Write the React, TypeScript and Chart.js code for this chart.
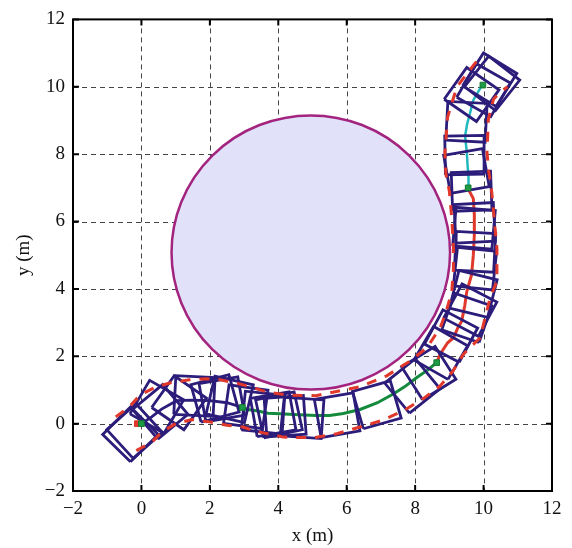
import React, { useEffect, useRef } from 'react';
import { Chart, registerables } from 'chart.js';

Chart.register(...registerables);

// ---- data ----
const xTicks = [-2, 0, 2, 4, 6, 8, 10, 12];
const yTicks = [-2, 0, 2, 4, 6, 8, 10, 12];

const obstacleCenter = [4.95, 5.08];
const obstacleRadius = 4.07;

// path segments [x, y]
const startPath = [
  [0, 0], [0.3, 0.2], [0.59, 0.43], [1.03, 0.68], [1.5, 0.7], [2.0, 0.68], [2.5, 0.62], [2.95, 0.48],
];
const greenPath = [
  [2.95, 0.48], [3.1, 0.42], [3.37, 0.38], [3.7, 0.31], [4.05, 0.29], [4.6, 0.26], [5.1, 0.24], [5.5, 0.24],
  [5.9, 0.3], [6.39, 0.42], [6.9, 0.62], [7.36, 0.88], [7.7, 1.1], [8.05, 1.37], [8.35, 1.58], [8.63, 1.81],
];
const redPath = [
  [8.63, 1.81], [8.73, 2.06], [8.95, 2.4], [9.12, 2.55], [9.25, 2.85], [9.36, 3.04], [9.45, 3.5],
  [9.51, 3.92], [9.65, 4.42], [9.7, 5.0], [9.73, 5.6], [9.73, 6.2], [9.7, 6.68], [9.6, 6.87], [9.55, 7.0],
];
const cyanPath = [
  [9.55, 7.0], [9.56, 7.3], [9.53, 7.7], [9.51, 8.05], [9.46, 8.54], [9.52, 8.9], [9.6, 9.2], [9.7, 9.6],
  [9.9, 9.95], [9.98, 10.05],
];
const waypoints = [
  [0, 0], [2.95, 0.48], [8.63, 1.81], [9.55, 7.0], [9.98, 10.05],
];
const startMarker = [[-0.12, 0.0]];

// corridor boundaries
const innerBoundary = [
  [-0.75, 0.2], [-0.35, 0.5], [-0.04, 0.85], [0.4, 1.08], [0.88, 1.22], [1.4, 1.3], [1.9, 1.33], [2.3, 1.3],
  [2.8, 1.2], [3.26, 1.07], [3.66, 0.94], [4.34, 0.84], [5.1, 0.83], [5.45, 0.9], [6.4, 1.1], [7.17, 1.42],
  [7.85, 1.86], [8.34, 2.25], [8.73, 2.84], [8.9, 3.3], [9.07, 3.92], [9.12, 4.6], [9.12, 5.2], [9.07, 6.1],
  [9.0, 6.9], [8.9, 7.4], [8.87, 8.05], [8.95, 9.1], [9.22, 10.0], [9.6, 10.5], [9.95, 10.95],
];
const outerBoundary = [
  [-0.15, -0.8], [0.3, -0.55], [0.6, -0.25], [1.0, 0.0], [1.47, 0.12], [1.95, 0.06], [2.5, -0.05], [2.98, -0.1],
  [3.27, -0.21], [4.15, -0.4], [5.02, -0.42], [5.71, -0.3], [6.39, -0.1], [7.05, 0.1], [7.65, 0.38], [8.25, 0.75],
  [8.73, 1.12], [9.1, 1.55], [9.41, 2.06], [9.9, 2.55], [10.19, 3.73], [10.39, 4.23], [10.39, 5.2], [10.24, 6.87],
  [10.15, 7.5], [10.1, 8.05], [10.14, 9.03], [10.29, 9.63], [10.48, 9.83], [10.7, 10.0],
];

// robot footprints: [centerX, centerY, angleDeg]
const footprints = [
  [-0.32, -0.32, 45], [-0.2, -0.22, 42], [0.55, 0.35, 40], [0.45, 0.5, -30], [1.1, 0.62, -35],
  [1.55, 0.82, -3], [2.15, 0.75, 15], [2.35, 0.72, 10], [2.58, 0.72, -13], [3.05, 0.5, -8],
  [3.55, 0.33, -6], [3.85, 0.28, 10], [4.02, 0.26, 12], [4.2, 0.22, 4], [4.72, 0.17, -4],
  [5.72, 0.25, 10], [6.88, 0.56, 16], [7.92, 1.12, 39], [8.4, 1.5, 32], [8.75, 2.1, 60],
  [9.05, 2.6, 62], [9.51, 3.14, 71], [9.61, 3.37, -28], [9.7, 3.85, -14], [9.75, 4.6, -6],
  [9.75, 5.1, -3], [9.72, 5.8, -5], [9.74, 5.96, 3], [9.65, 6.9, 2], [9.5, 7.5, 10], [9.45, 7.97, 1],
  [9.5, 8.96, -3], [9.65, 9.77, -35], [10.0, 9.9, -30], [10.18, 10.21, -32], [10.25, 10.1, -38],
];
const footprintSide = 1.15;

// ---- helpers ----
const pts = (arr: number[][]) => arr.map(([x, y]) => ({ x, y }));

function footprintOutline(cx: number, cy: number, deg: number) {
  const a = (deg * Math.PI) / 180;
  const h = footprintSide / 2;
  const c = Math.cos(a), s = Math.sin(a);
  const local = [[-h, -h], [h, -h], [h, h], [-h, h], [-h, -h]];
  return local.map(([u, v]) => ({ x: cx + u * c - v * s, y: cy + u * s + v * c }));
}

const NAVY = '#2c1d7a';
const RED = '#e0382b';
const GREEN = '#138a3c';
const CYAN = '#22b8bd';
const FONT = "'Liberation Serif', 'Times New Roman', serif";

const decorPlugin = {
  id: 'decor',
  beforeDatasetsDraw(chart: any) {
    const { ctx, chartArea, scales } = chart;
    const { left, right, top, bottom } = chartArea;
    const xs = scales.x, ys = scales.y;
    ctx.save();
    ctx.setLineDash([5, 4]);
    ctx.strokeStyle = '#444';
    ctx.lineWidth = 1;
    for (const t of xTicks) {
      const p = Math.round(xs.getPixelForValue(t)) + 0.5;
      if (p <= left + 1 || p >= right - 1) continue;
      ctx.beginPath(); ctx.moveTo(p, top); ctx.lineTo(p, bottom); ctx.stroke();
    }
    for (const t of yTicks) {
      const p = Math.round(ys.getPixelForValue(t)) + 0.5;
      if (p <= top + 1 || p >= bottom - 1) continue;
      ctx.beginPath(); ctx.moveTo(left, p); ctx.lineTo(right, p); ctx.stroke();
    }
    ctx.setLineDash([]);
    const cx = xs.getPixelForValue(obstacleCenter[0]);
    const cy = ys.getPixelForValue(obstacleCenter[1]);
    const rx = Math.abs(xs.getPixelForValue(obstacleCenter[0] + obstacleRadius) - cx);
    const ry = Math.abs(ys.getPixelForValue(obstacleCenter[1] + obstacleRadius) - cy);
    ctx.beginPath();
    ctx.ellipse(cx, cy, rx, ry, 0, 0, Math.PI * 2);
    ctx.fillStyle = '#e1e1fa';
    ctx.fill();
    ctx.strokeStyle = '#a3247f';
    ctx.lineWidth = 2.5;
    ctx.stroke();
    ctx.restore();
  },
  afterDatasetsDraw(chart: any) {
    const { ctx, chartArea, scales } = chart;
    const { left, right, top, bottom } = chartArea;
    const xs = scales.x, ys = scales.y;
    ctx.save();
    ctx.strokeStyle = '#000';
    ctx.lineWidth = 2;
    const tl = 6;
    for (const t of xTicks) {
      const p = xs.getPixelForValue(t);
      ctx.beginPath();
      ctx.moveTo(p, bottom); ctx.lineTo(p, bottom - tl);
      ctx.moveTo(p, top); ctx.lineTo(p, top + tl);
      ctx.stroke();
    }
    for (const t of yTicks) {
      const p = ys.getPixelForValue(t);
      ctx.beginPath();
      ctx.moveTo(left, p); ctx.lineTo(left + tl, p);
      ctx.moveTo(right, p); ctx.lineTo(right - tl, p);
      ctx.stroke();
    }
    ctx.strokeRect(left, top, right - left, bottom - top);
    ctx.restore();
  },
};

const fmt = (v: number) => (v < 0 ? '\u2212' + Math.abs(v) : String(v));

export default function App() {
  const ref = useRef<HTMLCanvasElement | null>(null);
  useEffect(() => {
    if (!ref.current) return;
    const line = (data: number[][], color: string, width: number, order: number, dash: number[] = []) => ({
      data: pts(data),
      showLine: true,
      borderColor: color,
      backgroundColor: color,
      borderWidth: width,
      borderDash: dash,
      pointRadius: 0,
      tension: 0,
      order,
    });
    const datasets: any[] = [
      {
        data: pts(waypoints),
        showLine: false,
        pointStyle: 'rect',
        pointRadius: 4,
        backgroundColor: '#1d9a43',
        borderColor: '#137a32',
        borderWidth: 1,
        order: 0,
      },
      {
        data: pts(startMarker),
        showLine: false,
        pointStyle: 'rect',
        pointRadius: 4,
        backgroundColor: RED,
        borderColor: RED,
        borderWidth: 1,
        order: 0.5,
      },
      line(innerBoundary, RED, 3, 1, [10, 9]),
      line(outerBoundary, RED, 3, 1, [10, 9]),
      ...footprints.map(([cx, cy, d]) => ({
        data: footprintOutline(cx, cy, d),
        showLine: true,
        borderColor: NAVY,
        borderWidth: 2.8,
        pointRadius: 0,
        tension: 0,
        order: 2,
      })),
      line(startPath, NAVY, 2.8, 3),
      line(greenPath, GREEN, 3, 3),
      line(redPath, RED, 3, 3),
      line(cyanPath, CYAN, 2.5, 3),
    ];
    const chart = new Chart(ref.current, {
      type: 'scatter',
      data: { datasets },
      plugins: [decorPlugin],
      options: {
        animation: false,
        responsive: false,
        events: [],
        layout: { padding: { top: 16, right: 20, left: 0, bottom: 0 } },
        plugins: { legend: { display: false }, tooltip: { enabled: false } },
        scales: {
          x: {
            type: 'linear',
            min: -2,
            max: 12,
            afterFit: (s: any) => { s.height = 57; },
            afterBuildTicks: (s: any) => { s.ticks = xTicks.map((v) => ({ value: v })); },
            ticks: { callback: (v: any) => fmt(Number(v)), color: '#111', font: { family: FONT, size: 19 }, padding: 7, maxRotation: 0 },
            grid: { display: false, drawTicks: false, tickLength: 0 },
            border: { display: false },
            title: { display: true, text: 'x (m)', color: '#111', font: { family: FONT, size: 19 }, padding: { top: 0, bottom: 1 } },
          },
          y: {
            type: 'linear',
            min: -2,
            max: 12,
            afterFit: (s: any) => { s.width = 73; },
            afterBuildTicks: (s: any) => { s.ticks = yTicks.map((v) => ({ value: v })); },
            ticks: { callback: (v: any) => fmt(Number(v)), color: '#111', font: { family: FONT, size: 19 }, padding: 8 },
            grid: { display: false, drawTicks: false, tickLength: 0 },
            border: { display: false },
            title: { display: true, text: 'y (m)', color: '#111', font: { family: FONT, size: 19 }, padding: { top: 13, bottom: 0 } },
          },
        },
      },
    });
    return () => chart.destroy();
  }, []);
  return (
    <div style={{ position: 'fixed', left: 0, top: 0, width: 572, height: 548, background: '#fff' }}>
      <canvas ref={ref} width={572} height={548} style={{ width: 572, height: 548, display: 'block' }} />
    </div>
  );
}
